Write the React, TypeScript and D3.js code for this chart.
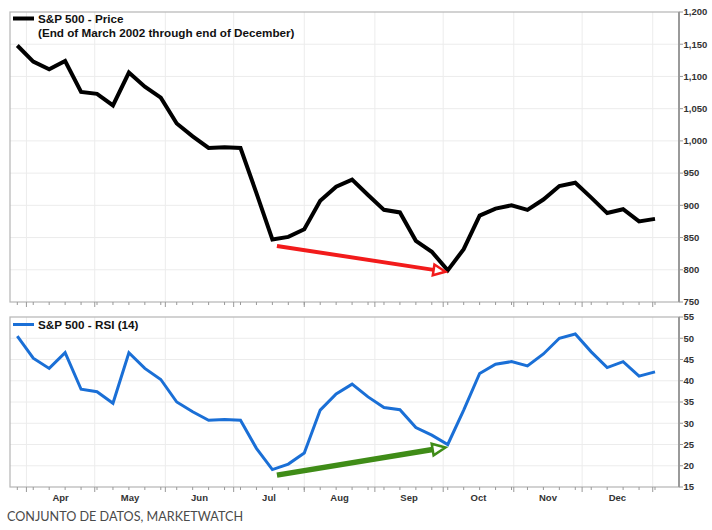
import React from "react";
import * as d3 from "d3";

const dates = [
  "2002-03-28","2002-04-04","2002-04-11","2002-04-18","2002-04-25",
  "2002-05-02","2002-05-09","2002-05-16","2002-05-23","2002-05-30",
  "2002-06-06","2002-06-13","2002-06-20","2002-06-27",
  "2002-07-04","2002-07-11","2002-07-18","2002-07-25",
  "2002-08-01","2002-08-08","2002-08-15","2002-08-22","2002-08-29",
  "2002-09-05","2002-09-12","2002-09-19","2002-09-26",
  "2002-10-03","2002-10-10","2002-10-17","2002-10-24","2002-10-31",
  "2002-11-07","2002-11-14","2002-11-21","2002-11-28",
  "2002-12-05","2002-12-12","2002-12-19","2002-12-26","2003-01-02",
];

const price = [
  1148, 1123, 1111, 1124, 1076, 1073, 1055, 1106, 1084, 1067,
  1027, 1007, 989, 990, 989, 919, 847, 851, 863, 907,
  929, 940, 916, 893, 889, 845, 828, 799, 832, 884,
  895, 900, 893, 909, 930, 935, 912, 888, 894, 875, 879,
];

const rsi = [
  50.5, 45.3, 42.9, 46.6, 38.0, 37.4, 34.7, 46.6, 42.9, 40.3,
  35.0, 32.7, 30.7, 30.9, 30.7, 24.1, 19.1, 20.4, 23.0, 33.1,
  36.9, 39.2, 36.2, 33.7, 33.2, 29.0, 27.2, 25.0, 33.1, 41.7,
  43.9, 44.5, 43.5, 46.3, 50.0, 51.0, 46.8, 43.1, 44.5, 41.1, 42.1,
];

const monthStarts = [
  "2002-04-01","2002-05-01","2002-06-01","2002-07-01","2002-08-01",
  "2002-09-01","2002-10-01","2002-11-01","2002-12-01","2003-01-01",
];
const monthLabels = ["Apr","May","Jun","Jul","Aug","Sep","Oct","Nov","Dec"];

const priceTicks = [750, 800, 850, 900, 950, 1000, 1050, 1100, 1150, 1200];
const rsiTicks = [15, 20, 25, 30, 35, 40, 45, 50, 55];

// annotation arrows: [startDate, startValue, endDate, endValue]
const priceArrow = { from: ["2002-07-20", 837], to: ["2002-10-02", 797] };
const rsiArrow = { from: ["2002-07-20", 17.8], to: ["2002-10-02", 24.3] };

const parse = d3.utcParse("%Y-%m-%d");

const LEFT = 10;
const RIGHT = 679;
const TOP1 = 12, BOT1 = 302;
const TOP2 = 317, BOT2 = 487;

const x = d3.scaleUtc()
  .domain([parse(dates[0])!, parse(dates[dates.length - 1])!])
  .range([17.3, 655]);
const yP = d3.scaleLinear().domain([750, 1200]).range([BOT1, TOP1]);
const yR = d3.scaleLinear().domain([15, 55]).range([BOT2, TOP2]);

const FONT = "'Liberation Sans', Arial, sans-serif";

function Arrow({ x1, y1, x2, y2, color, width, head }: any) {
  const ang = Math.atan2(y2 - y1, x2 - x1);
  const len = head;
  const bx = x2 - len * Math.cos(ang);
  const by = y2 - len * Math.sin(ang);
  const hw = head * 0.45;
  const px = -Math.sin(ang), py = Math.cos(ang);
  const tri = `M${x2},${y2} L${bx + px * hw},${by + py * hw} L${bx - px * hw},${by - py * hw} Z`;
  return (
    <g>
      <line x1={x1} y1={y1} x2={bx} y2={by} stroke={color} strokeWidth={width} strokeLinecap="butt" />
      <path d={tri} fill="#fff" stroke={color} strokeWidth={2.5} strokeLinejoin="miter" />
    </g>
  );
}

function Panel({ top, bot, y, ticks, fmt }: any) {
  const months = monthStarts.map((m) => x(parse(m)!));
  return (
    <g>
      {ticks.slice(1, -1).map((t: number) => (
        <line key={"h" + t} x1={LEFT} x2={RIGHT} y1={y(t)} y2={y(t)} stroke="#ececec" strokeWidth={1} />
      ))}
      {months.map((mx: number, i: number) => (
        <line key={"v" + i} x1={mx} x2={mx} y1={top} y2={bot} stroke="#ececec" strokeWidth={1} />
      ))}
      <rect x={LEFT} y={top} width={RIGHT - LEFT} height={bot - top} fill="none" stroke="#b5b5b5" strokeWidth={1.2} />
      <line x1={RIGHT} x2={RIGHT} y1={top} y2={bot} stroke="#9a9a9a" strokeWidth={2} />
      {ticks.map((t: number) => (
        <g key={"t" + t}>
          <line x1={RIGHT} x2={RIGHT + 4} y1={y(t)} y2={y(t)} stroke="#9a9a9a" strokeWidth={1} />
          <text x={RIGHT + 4.5} y={y(t)} dy="0.35em" fontFamily={FONT} fontSize={9.5} fontWeight="bold" fill="#333">
            {fmt(t)}
          </text>
        </g>
      ))}
      {dates.map((d) => (
        <line key={"m" + d} x1={x(parse(d)!)} x2={x(parse(d)!)} y1={bot} y2={bot + 3} stroke="#999" strokeWidth={1} />
      ))}
      {months.map((mx: number, i: number) => (
        <line key={"M" + i} x1={mx} x2={mx} y1={bot} y2={bot + 5} stroke="#999" strokeWidth={1} />
      ))}
    </g>
  );
}

export default function App() {
  const lineP = d3.line<number>()
    .x((_, i) => x(parse(dates[i])!))
    .y((v) => yP(v));
  const lineR = d3.line<number>()
    .x((_, i) => x(parse(dates[i])!))
    .y((v) => yR(v));
  const fmtComma = d3.format(",");
  const months = monthStarts.map((m) => parse(m)!);

  return (
    <svg width={712} height={530} style={{ position: "absolute", left: 0, top: 0, background: "#fff" }}>
      <rect x={0} y={0} width={712} height={530} fill="#fff" />
      <Panel top={TOP1} bot={BOT1} y={yP} ticks={priceTicks} fmt={fmtComma} />
      <Panel top={TOP2} bot={BOT2} y={yR} ticks={rsiTicks} fmt={(v: number) => String(v)} />

      <path d={lineP(price)!} fill="none" stroke="#000" strokeWidth={4} strokeLinejoin="miter" strokeMiterlimit={3} />
      <path d={lineR(rsi)!} fill="none" stroke="#1a6fd6" strokeWidth={3} strokeLinejoin="miter" strokeMiterlimit={3} />

      <Arrow
        x1={x(parse(priceArrow.from[0] as string)!)} y1={yP(priceArrow.from[1] as number)}
        x2={x(parse(priceArrow.to[0] as string)!)} y2={yP(priceArrow.to[1] as number)}
        color="#f21b1b" width={4} head={12}
      />
      <Arrow
        x1={x(parse(rsiArrow.from[0] as string)!)} y1={yR(rsiArrow.from[1] as number)}
        x2={x(parse(rsiArrow.to[0] as string)!)} y2={yR(rsiArrow.to[1] as number)}
        color="#3f8c17" width={5.5} head={13}
      />

      {/* legends */}
      <line x1={13} x2={34} y1={18.5} y2={18.5} stroke="#000" strokeWidth={4} />
      <text x={38} y={23} fontFamily={FONT} fontSize={11.7} fontWeight="bold" fill="#111">S&amp;P 500 - Price</text>
      <text x={38} y={36.5} fontFamily={FONT} fontSize={11.7} fontWeight="bold" fill="#111">(End of March 2002 through end of December)</text>

      <line x1={13} x2={34} y1={324.5} y2={324.5} stroke="#1a6fd6" strokeWidth={3} />
      <text x={38} y={329} fontFamily={FONT} fontSize={11.7} fontWeight="bold" fill="#111">S&amp;P 500 - RSI (14)</text>

      {monthLabels.map((m, i) => {
        const mid = new Date((months[i].getTime() + months[i + 1].getTime()) / 2);
        return (
          <text key={m} x={x(mid)} y={501} textAnchor="middle" fontFamily={FONT} fontSize={9.5} fontWeight="bold" fill="#333">
            {m}
          </text>
        );
      })}

      <text x={7} y={521} fontFamily="Lato, 'Open Sans', sans-serif" fontSize={14} fill="#4a4a4a"
        textLength={236} lengthAdjust="spacingAndGlyphs">
        CONJUNTO DE DATOS, MARKETWATCH
      </text>
    </svg>
  );
}
